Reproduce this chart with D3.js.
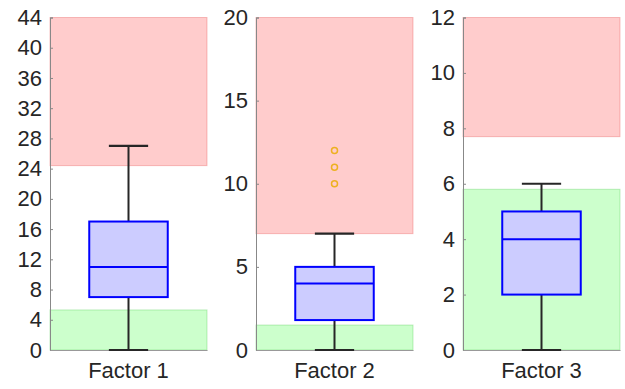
<!DOCTYPE html>
<html>
<head>
<meta charset="utf-8">
<script src="https://cdn.jsdelivr.net/npm/d3@7"></script>
<style>
  html, body { margin: 0; padding: 0; background: #fff; }
  svg { display: block; }
  text { font-family: "Liberation Sans", Arial, sans-serif; fill: #262626; }
</style>
</head>
<body>
<svg id="chart" width="625" height="389"></svg>
<script>
// One panel per factor, each with its own y range.
const factors      = ["Factor 1", "Factor 2", "Factor 3"];
const yMax         = [44, 20, 12];
const yTickStep    = [4, 5, 2];
const whiskerLow   = [0, 0, 0];
const q1           = [7, 1.8, 2];
const median       = [11, 4, 4];
const q3           = [17, 5, 5];
const whiskerHigh  = [27, 7, 6];
const outliers     = [[], [10, 11, 12], []];
// Shaded reference bands: green from 0 up to lowBand, red from highBand up to the top.
const lowBand      = [5.3, 1.5, 5.8];
const highBand     = [24.4, 7, 7.7];

const svg = d3.select("#chart");
const panelLeft  = [50, 256, 463];
const panelWidth = 157;
const plotTop = 17.5, plotBottom = 350;
const fontSize = 22;

factors.forEach((name, i) => {
  const g = svg.append("g");
  const x = d3.scaleBand().domain([name]).range([panelLeft[i], panelLeft[i] + panelWidth]);
  const y = d3.scaleLinear().domain([0, yMax[i]]).range([plotBottom, plotTop]);
  const cx = x(name) + x.bandwidth() / 2;
  const boxW = x.bandwidth() * 0.5;
  const capW = boxW * 0.5;

  // reference bands
  g.append("rect")
    .attr("x", x(name)).attr("width", x.bandwidth())
    .attr("y", y(yMax[i])).attr("height", y(highBand[i]) - y(yMax[i]))
    .attr("fill", "rgba(255,0,0,0.2)").attr("stroke", "rgba(230,80,80,0.35)").attr("stroke-width", 1);
  g.append("rect")
    .attr("x", x(name)).attr("width", x.bandwidth())
    .attr("y", y(lowBand[i])).attr("height", y(0) - y(lowBand[i]))
    .attr("fill", "rgba(0,255,0,0.2)").attr("stroke", "rgba(80,200,80,0.35)").attr("stroke-width", 1);

  // y axis
  const ticks = d3.range(0, yMax[i] + 1e-9, yTickStep[i]);
  const yAxis = d3.axisLeft(y).tickValues(ticks).tickSize(-3).tickPadding(8).tickFormat(d3.format("d"));
  const ya = g.append("g").attr("transform", `translate(${x(name)},0)`).call(yAxis);
  ya.select(".domain").attr("stroke", "#888").attr("stroke-width", 1);
  ya.selectAll(".tick line").attr("stroke", "#888");
  ya.selectAll(".tick text").attr("font-size", fontSize).attr("fill", "#262626")
    .attr("font-family", "'Liberation Sans', Arial, sans-serif");

  // x axis
  const xAxis = d3.axisBottom(x).tickSize(0).tickPadding(12);
  const xa = g.append("g").attr("transform", `translate(0,${plotBottom})`).call(xAxis);
  xa.select(".domain").attr("stroke", "#999").attr("stroke-width", 1);
  xa.selectAll(".tick text").attr("font-size", fontSize).attr("fill", "#262626")
    .attr("font-family", "'Liberation Sans', Arial, sans-serif");

  // whiskers
  const wc = "#262626";
  g.append("line").attr("x1", cx).attr("x2", cx)
    .attr("y1", y(q3[i])).attr("y2", y(whiskerHigh[i]))
    .attr("stroke", wc).attr("stroke-width", 2);
  g.append("line").attr("x1", cx).attr("x2", cx)
    .attr("y1", y(q1[i])).attr("y2", y(whiskerLow[i]))
    .attr("stroke", wc).attr("stroke-width", 2);
  [whiskerHigh[i], whiskerLow[i]].forEach(v => {
    g.append("line").attr("x1", cx - capW / 2).attr("x2", cx + capW / 2)
      .attr("y1", y(v)).attr("y2", y(v))
      .attr("stroke", wc).attr("stroke-width", 2.2);
  });

  // box
  g.append("rect")
    .attr("x", cx - boxW / 2).attr("width", boxW)
    .attr("y", y(q3[i])).attr("height", y(q1[i]) - y(q3[i]))
    .attr("fill", "#ccccff").attr("stroke", "#0000ff").attr("stroke-width", 2);
  g.append("line").attr("x1", cx - boxW / 2).attr("x2", cx + boxW / 2)
    .attr("y1", y(median[i])).attr("y2", y(median[i]))
    .attr("stroke", "#0000ff").attr("stroke-width", 2);

  // outliers
  g.selectAll("circle.out").data(outliers[i]).enter().append("circle")
    .attr("class", "out")
    .attr("cx", cx).attr("cy", d => y(d)).attr("r", 3)
    .attr("fill", "none").attr("stroke", "#EDB120").attr("stroke-width", 1.5);
});
</script>
</body>
</html>
